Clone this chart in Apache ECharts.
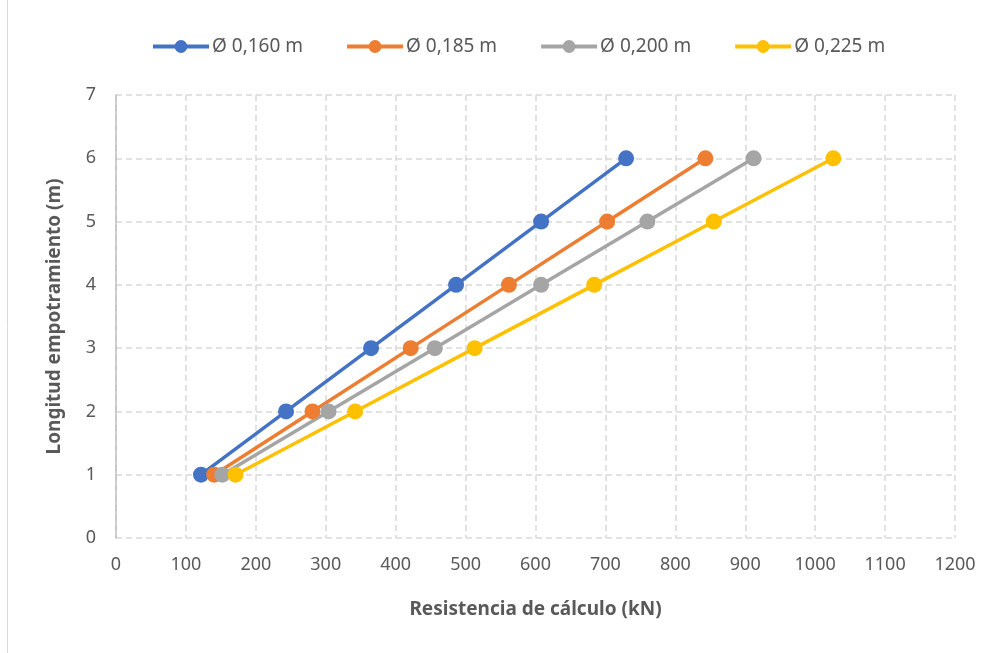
<!DOCTYPE html>
<html>
<head>
<meta charset="utf-8">
<script src="https://cdn.jsdelivr.net/npm/echarts@6/dist/echarts.min.js"></script>
<style>
  html, body { margin: 0; padding: 0; background: #fff; }
  #chart { width: 996px; height: 653px; }
</style>
</head>
<body>
<div id="chart"></div>
<script>
// datos
const longitudes = [1, 2, 3, 4, 5, 6];
const d160 = [121.6, 243.2, 364.8, 486.4, 608, 729.6];
const d185 = [140.5, 281, 421.5, 562, 702.5, 843];
const d200 = [152, 304, 456, 608, 760, 912];
const d225 = [171, 342, 513, 684, 855, 1026];
const nombres = ['Ø 0,160 m', 'Ø 0,185 m', 'Ø 0,200 m', 'Ø 0,225 m'];
const colores = ['#4472C4', '#ED7D31', '#A5A5A5', '#FFC000'];

const fuente = '"Noto Sans", sans-serif';

const chart = echarts.init(document.getElementById('chart'));

function serie(nombre, xs, color) {
  return {
    name: nombre,
    type: 'line',
    data: xs.map((x, i) => [x, longitudes[i]]),
    symbol: 'circle',
    symbolSize: 16,
    lineStyle: { width: 3.5, color: color },
    itemStyle: { color: color },
    z: 3
  };
}

chart.setOption({
  animation: false,
  color: colores,
  textStyle: { fontFamily: fuente },
  graphic: [{
    type: 'line',
    shape: { x1: 7.5, y1: 0, x2: 7.5, y2: 653 },
    style: { stroke: '#d9d9d9', lineWidth: 1 }
  }],
  legend: {
    top: 32,
    left: 146,
    itemWidth: 56,
    itemHeight: 16,
    itemGap: 42,
    lineStyle: { width: 4 },
    textStyle: { fontSize: 19, color: '#595959', fontFamily: fuente, padding: [0, 0, 0, -2] },
    data: nombres
  },
  grid: { left: 116, right: 41, top: 95, bottom: 115 },
  xAxis: {
    type: 'value',
    min: 0, max: 1200, interval: 100,
    name: 'Resistencia de cálculo (kN)',
    nameLocation: 'middle',
    nameGap: 62,
    nameTextStyle: { fontSize: 19, fontWeight: 'bold', color: '#595959', fontFamily: fuente },
    axisLine: { show: false },
    axisTick: { show: false },
    axisLabel: { fontSize: 18, color: '#595959', margin: 18, fontFamily: fuente, formatter: v => String(v) },
    splitLine: { show: true, lineStyle: { color: '#d9d9d9', type: [6, 4], width: 1.5 } }
  },
  yAxis: {
    type: 'value',
    min: 0, max: 7, interval: 1,
    name: 'Longitud empotramiento (m)',
    nameLocation: 'middle',
    nameGap: 52,
    nameTextStyle: { fontSize: 19, fontWeight: 'bold', color: '#595959', fontFamily: fuente },
    axisLine: { show: true, lineStyle: { color: '#bfbfbf', width: 1.5 } },
    axisTick: { show: false },
    axisLabel: { fontSize: 18, color: '#595959', margin: 20, fontFamily: fuente },
    splitLine: { show: true, lineStyle: { color: '#d9d9d9', type: [6, 4], width: 1.5 } }
  },
  series: [
    serie(nombres[0], d160, colores[0]),
    serie(nombres[1], d185, colores[1]),
    serie(nombres[2], d200, colores[2]),
    serie(nombres[3], d225, colores[3])
  ]
});
</script>
</body>
</html>
